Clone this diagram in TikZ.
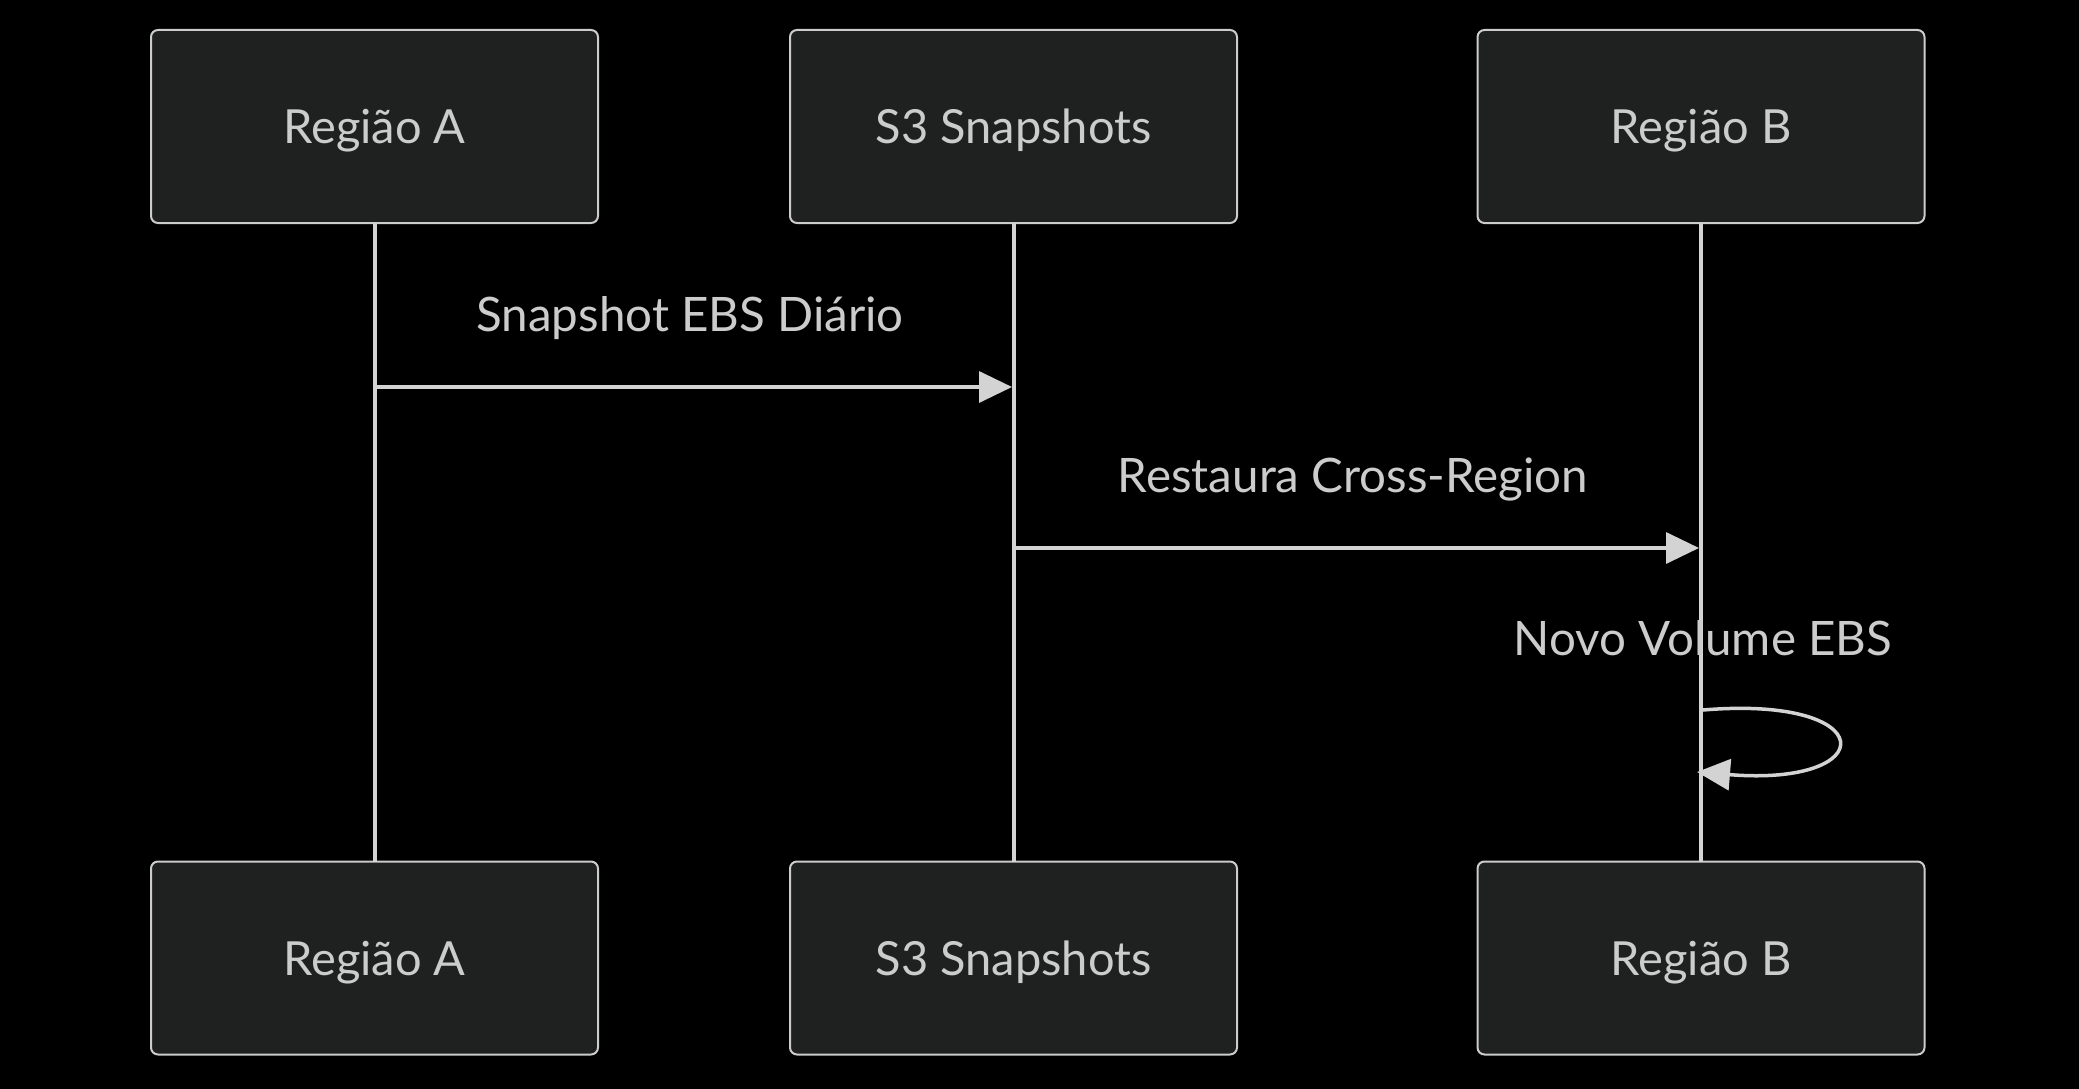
\documentclass[tikz,border=0pt]{standalone}
\usepackage{fontspec}
\setmainfont{Lato}
\usetikzlibrary{arrows.meta}
\definecolor{actorfill}{HTML}{1F2020}
\definecolor{actorline}{HTML}{CCCCCC}
\definecolor{txt}{HTML}{CCCCCC}
\definecolor{sig}{HTML}{D3D3D3}
\begin{document}
\begin{tikzpicture}[x=1pt,y=-1pt,
  actor/.style={draw=actorline, fill=actorfill, line width=2pt, rounded corners=7pt,
    minimum width=447pt, minimum height=193pt, inner sep=0pt, outer sep=0pt,
    text=txt, font=\fontsize{47}{56}\selectfont, text height=34pt, text depth=0pt},
  lifeline/.style={draw=sig, line width=4pt},
  msg/.style={draw=sig, line width=3.5pt, -{Triangle[length=33pt,width=31pt]}},
  lbl/.style={text=txt, font=\fontsize{47.5}{56}\selectfont, inner sep=0pt, anchor=base}]
\fill[black] (0,0) rectangle (2079,1089);
\useasboundingbox (0,0) rectangle (2079,1089);
% actors
\node[actor] (ra)  at (374.5,126.5) {Região A};
\node[actor] (s3)  at (1013.5,126.5) {S3 Snapshots};
\node[actor] (rb)  at (1701,126.5) {Região B};
\node[actor] (ra2) at (374.5,958) {Região A};
\node[actor] (s32) at (1013.5,958) {S3 Snapshots};
\node[actor] (rb2) at (1701,958) {Região B};
% lifelines
\draw[lifeline] (ra.south) -- (ra2.north);
\draw[lifeline] (s3.south) -- (s32.north);
\draw[lifeline] (rb.south) -- (rb2.north);
% message 1
\coordinate (m1a) at (376,387);
\coordinate (m1b) at (1012,387);
\draw[msg] (m1a) -- (m1b);
\node[lbl] (l1) at (690,331) {Snapshot EBS Diário};
% message 2
\coordinate (m2a) at (1015,548);
\coordinate (m2b) at (1699,548);
\draw[msg] (m2a) -- (m2b);
\node[lbl] (l2) at (1353,492) {Restaura Cross-Region};
% self message
\coordinate (m3a) at (1703,710);
\coordinate (m3b) at (1697,772);
\draw[msg] (m3a) .. controls (1882,695) and (1882,787) .. (m3b);
\node[lbl] (l3) at (1703,655) {Novo Volume EBS};
\end{tikzpicture}
\end{document}
